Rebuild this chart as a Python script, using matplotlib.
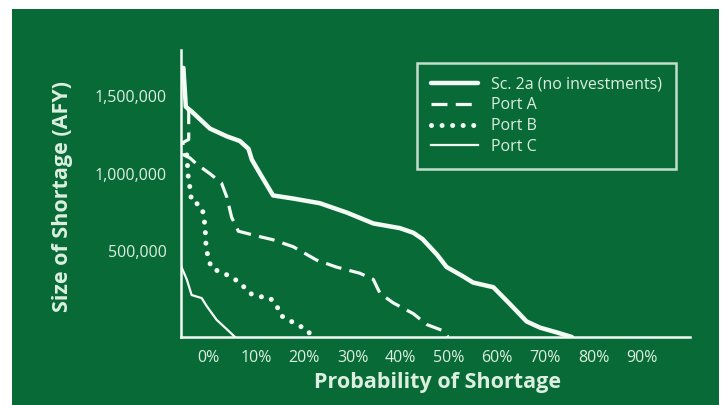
import matplotlib
matplotlib.use("Agg")
import matplotlib.pyplot as plt
from matplotlib.patches import Rectangle

# ---- data (probability in %, shortage in AFY) ----
sc2a_x = [-5.1, -4.6, -3.4, 0.4, 3.9, 6.6, 8.4, 9.1, 10.8, 13.5, 17.7, 23.2, 28.8,
          34.3, 39.8, 42.6, 44.5, 47.5, 49.5, 52.9, 55.0, 59.2, 62.7, 66.1, 68.9, 72.3, 75.5]
sc2a_y = [1680000, 1430000, 1400000, 1290000, 1240000, 1210000, 1160000, 1090000,
          1000000, 860000, 840000, 810000, 750000, 680000, 650000, 620000, 580000,
          480000, 400000, 340000, 300000, 270000, 160000, 50000, 10000, -20000, -50000]

portA_x = [-4.2, -4.0, -4.0, -5.2, -5.0, -3.7, -2.3, 0.4, 2.8, 3.9, 4.9, 6.3, 10.1,
           13.5, 17.7, 22.5, 26.6, 31.5, 34.3, 35.7, 38.4, 42.6, 45.4, 48.8, 49.8]
portA_y = [1420000, 1400000, 1220000, 1200000, 1120000, 1100000, 1060000, 1000000,
           940000, 850000, 720000, 630000, 600000, 575000, 530000, 445000, 400000,
           360000, 320000, 230000, 170000, 100000, 30000, -10000, -50000]

portB_x = [-4.4, -4.1, -3.7, -3.4, -1.7, -1.0, -0.6, -0.4, 0.1, 0.8, 2.5, 4.6, 6.6,
           8.7, 10.8, 12.9, 14.3, 15.0, 16.7, 19.1, 20.8, 21.4]
portB_y = [1120000, 980000, 900000, 820000, 800000, 750000, 660000, 530000, 450000,
           390000, 370000, 340000, 300000, 230000, 210000, 200000, 150000, 90000,
           60000, 20000, -10000, -50000]

portC_x = [-5.5, -4.4, -3.4, -1.3, -0.3, 1.8, 3.9, 5.6]
portC_y = [400000, 320000, 220000, 200000, 150000, 60000, 0, -50000]

series_labels = ["Sc. 2a (no investments)", "Port A", "Port B", "Port C"]
x_ticks = [0, 10, 20, 30, 40, 50, 60, 70, 80, 90]
x_tick_labels = ["0%", "10%", "20%", "30%", "40%", "50%", "60%", "70%", "80%", "90%"]
y_ticks = [500000, 1000000, 1500000]
y_tick_labels = ["500,000", "1,000,000", "1,500,000"]

GREEN = "#086b37"
TXT = "#dcefe0"
LINE = "#f4fbf5"

plt.rcParams['font.family'] = ['Open Sans', 'DejaVu Sans']

fig = plt.figure(figsize=(7.27, 4.05), dpi=100, facecolor="white")
bg = Rectangle((12 / 727, 0), (719 - 12) / 727, (405 - 9) / 405,
               transform=fig.transFigure, facecolor=GREEN, edgecolor="none", zorder=-10)
fig.patches.append(bg)

ax = fig.add_axes([181 / 727, 1 - 337 / 405, (690 - 181) / 727, (337 - 50) / 405])
ax.set_zorder(5)
ax.set_facecolor("none")

ax.plot(sc2a_x, sc2a_y, color=LINE, lw=3.2, solid_joinstyle="round",
        solid_capstyle="round", label=series_labels[0])
ax.plot(portA_x, portA_y, color=LINE, lw=2.3, linestyle=(0, (5.0, 2.6)),
        label=series_labels[1])
ax.plot(portB_x, portB_y, color=LINE, lw=3.6, linestyle=(0, (0.01, 2.1)),
        dash_capstyle="round", label=series_labels[2])
ax.plot(portC_x, portC_y, color=LINE, lw=1.6, label=series_labels[3])

ax.set_xlim(-5.6, 100)
ax.set_ylim(-50000, 1795000)

ax.set_xticks(x_ticks)
ax.set_xticklabels(x_tick_labels)
ax.set_yticks(y_ticks)
ax.set_yticklabels(y_tick_labels)
ax.tick_params(axis="both", length=0, colors=TXT, labelsize=11.5)
ax.tick_params(axis="x", pad=9)
ax.tick_params(axis="y", pad=10)

for s in ["top", "right"]:
    ax.spines[s].set_visible(False)
for s in ["left", "bottom"]:
    ax.spines[s].set_color(LINE)
    ax.spines[s].set_linewidth(1.8)

ax.set_xlabel("Probability of Shortage", fontsize=15.5, fontweight="bold", color=TXT)
ax.set_ylabel("Size of Shortage (AFY)", fontsize=15.5, fontweight="bold", color=TXT)
ax.xaxis.set_label_coords((437 - 181) / 509, (337 - 372) / 287)
ax.yaxis.set_label_coords(-0.212, (337 - 196) / 287)

leg = ax.legend(loc="upper left", bbox_to_anchor=(417 / 727, 1 - 63 / 405),
                bbox_transform=fig.transFigure, borderaxespad=0, frameon=True,
                fancybox=False, fontsize=11.5, handlelength=3.0, handletextpad=0.8,
                labelspacing=0.3, borderpad=0.85, labelcolor=TXT)
frame = leg.get_frame()
frame.set_facecolor("none")
frame.set_edgecolor(LINE)
frame.set_linewidth(1.8)

fig.savefig("out.png", dpi=100, facecolor="white")
